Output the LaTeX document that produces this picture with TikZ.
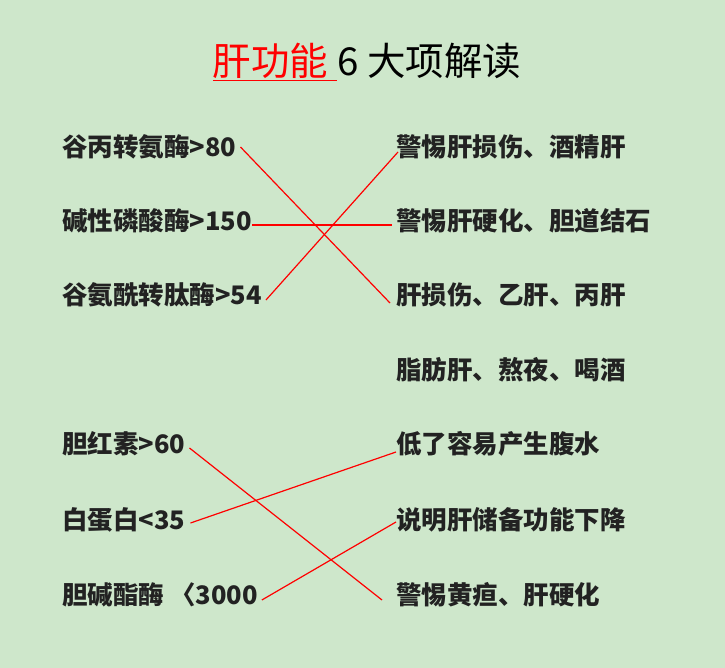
\documentclass[tikz,border=0pt]{standalone}
\usepackage{fontspec}
\setmainfont{Noto Sans CJK SC}
\usetikzlibrary{positioning}
\definecolor{bggreen}{RGB}{206,231,203}
\definecolor{inkgray}{RGB}{34,34,34}
\tikzset{
  item/.style={anchor=west, inner sep=2pt, text=inkgray,
    font=\fontsize{25.5}{28}\selectfont\bfseries},
  heading/.style={inner sep=2pt, text=black, font=\fontsize{38.5}{42}\selectfont},
  link/.style={red, line width=1.2pt},
}

\begin{document}
\begin{tikzpicture}[x=1pt, y=-1pt]
  % Background
  \fill[bggreen] (0,0) rectangle (725,668);

  % Title
  \node[heading] (title) at (367,62) {\textcolor{red}{\underline{肝功能\ }}6 大项解读};

  % Left column: test values
  \node[item] (l1) at (60,147) {谷丙转氨酶>80};
  \node[item] (l2) at (60,221) {碱性磷酸酶>150};
  \node[item] (l3) at (60,295) {谷氨酰转肽酶>54};
  \node[item] (l4) at (60,444) {胆红素>60};
  \node[item] (l5) at (60,520) {白蛋白<35};
  \node[item] (l6) at (60,595) {胆碱酯酶 〈3000};

  % Right column: meanings
  \node[item] (r1) at (394,147) {警惕肝损伤、酒精肝};
  \node[item] (r2) at (394,221) {警惕肝硬化、胆道结石};
  \node[item] (r3) at (394,295) {肝损伤、乙肝、丙肝};
  \node[item] (r4) at (394,370) {脂肪肝、熬夜、喝酒};
  \node[item] (r5) at (394,444) {低了容易产生腹水};
  \node[item] (r6) at (394,520) {说明肝储备功能下降};
  \node[item] (r7) at (394,595) {警惕黄疸、肝硬化};

  % Matching lines, upper block
  \draw[link] ([xshift=2pt]l1.east) -- ([xshift=-4pt, yshift=-8pt]r3.west);
  \draw[link] ([xshift=-2pt, yshift=-4pt]l2.east) -- ([xshift=-2pt, yshift=-4pt]r2.west);
  \draw[link] ([xshift=2pt, yshift=-5pt]l3.east) -- ([xshift=4pt, yshift=-5pt]r1.west);

  % Matching lines, lower block
  \draw[link] ([xshift=2pt, yshift=-4pt]l4.east) -- ([xshift=-12pt, yshift=-5pt]r7.west);
  \draw[link] ([xshift=3pt, yshift=-3pt]l5.east) -- ([xshift=2pt, yshift=-8pt]r5.west);
  \draw[link] ([xshift=2pt, yshift=-5pt]l6.east) -- ([xshift=2pt, yshift=-2pt]r6.west);
\end{tikzpicture}
\end{document}
